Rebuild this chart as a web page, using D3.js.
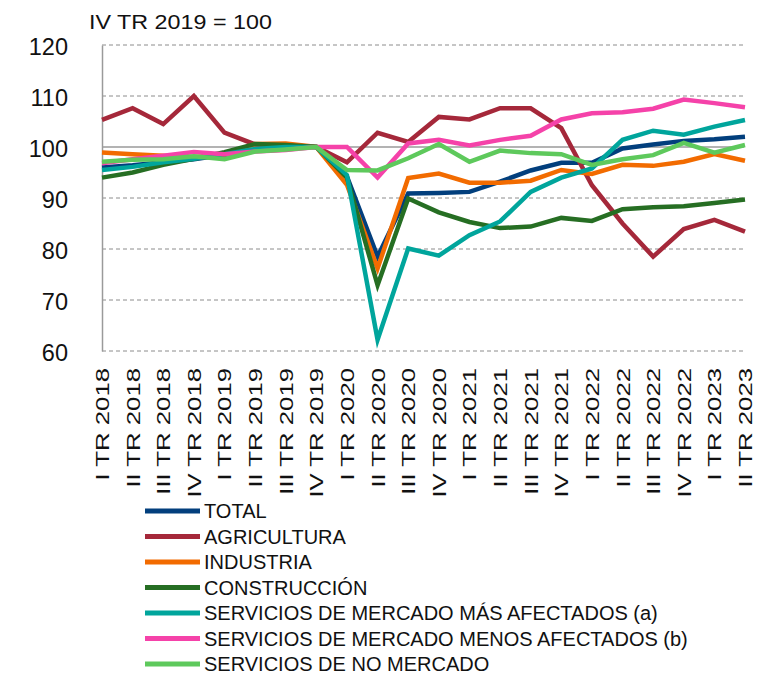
<!DOCTYPE html>
<html>
<script src="https://d3js.org/d3.v7.min.js"></script>
<style>
  body {margin:0; background:#fff;}
  text {font-family:"Liberation Sans", Arial, sans-serif; fill:#111;}
</style>
<body>
<svg width=772 height=675></svg>
<script>
    // quarters
    const quarters = ["I TR 2018","II TR 2018","III TR 2018","IV TR 2018",
        "I TR 2019","II TR 2019","III TR 2019","IV TR 2019",
        "I TR 2020","II TR 2020","III TR 2020","IV TR 2020",
        "I TR 2021","II TR 2021","III TR 2021","IV TR 2021",
        "I TR 2022","II TR 2022","III TR 2022","IV TR 2022",
        "I TR 2023","II TR 2023"];

    const yTicks = [60, 70, 80, 90, 100, 110, 120];

    const total        = [96.0, 96.4, 97.0, 97.6, 98.5, 99.4, 100.0, 100, 94.2, 78.5, 90.9, 91.0, 91.2, 93.2, 95.4, 96.9, 96.9, 99.7, 100.5, 101.2, 101.5, 102.0];
    const agricultura  = [105.3, 107.6, 104.5, 110.0, 102.8, 100.5, 100.3, 100, 97.0, 102.8, 101.0, 105.9, 105.4, 107.6, 107.6, 103.7, 92.5, 85.0, 78.5, 83.9, 85.7, 83.4];
    const industria    = [98.9, 98.6, 98.3, 98.0, 98.5, 100.6, 100.7, 100, 92.6, 76.2, 93.9, 94.8, 93.0, 93.0, 93.4, 95.5, 94.7, 96.5, 96.3, 97.1, 98.6, 97.3];
    const construccion = [94.0, 95.0, 96.5, 97.7, 99.0, 100.6, 100.4, 100, 94.0, 72.9, 89.9, 87.2, 85.3, 84.1, 84.4, 86.1, 85.5, 87.8, 88.2, 88.4, 89.0, 89.7];
    const masAfectados = [95.5, 96.1, 97.0, 97.7, 98.6, 99.6, 100.0, 100, 94.5, 62.2, 80.1, 78.7, 82.7, 85.4, 91.2, 94.0, 95.8, 101.4, 103.2, 102.4, 104.0, 105.3];
    const menosAfectados = [96.8, 97.6, 98.3, 99.0, 98.6, 99.1, 99.4, 100, 100.0, 94.0, 100.7, 101.4, 100.3, 101.4, 102.2, 105.4, 106.6, 106.8, 107.5, 109.3, 108.6, 107.8];
    const noMercado    = [97.1, 97.5, 97.6, 98.2, 97.6, 99.1, 99.5, 100, 95.5, 95.4, 97.8, 100.6, 97.1, 99.3, 98.8, 98.6, 96.5, 97.6, 98.4, 100.8, 98.9, 100.4];

    const seriesNames = ["TOTAL", "AGRICULTURA", "INDUSTRIA", "CONSTRUCCIÓN",
        "SERVICIOS DE MERCADO MÁS AFECTADOS (a)",
        "SERVICIOS DE MERCADO MENOS AFECTADOS (b)",
        "SERVICIOS DE NO MERCADO"];
    const seriesValues = [total, agricultura, industria, construccion, masAfectados, menosAfectados, noMercado];
    const colors = ["#023f7d", "#a5283a", "#f26b00", "#266e23", "#00a59c", "#f542a9", "#5ec95c"];

    const svg = d3.select("svg");

    const x = d3.scalePoint()
        .domain(quarters)
        .range([102, 745]);

    const y = d3.scaleLinear()
        .domain([60, 120])
        .range([351, 45]);

    // grid
    svg.append("g").selectAll("line")
        .data(yTicks)
        .enter().append("line")
        .attr("x1", 102).attr("x2", 744)
        .attr("y1", d => y(d)).attr("y2", d => y(d))
        .attr("stroke", d => d === 100 ? "#9a9a9a" : "#8c8c8c")
        .attr("stroke-width", d => d === 100 ? 1.5 : 1)
        .attr("stroke-dasharray", d => d === 100 ? null : "4,3");

    // y axis
    const yAxis = d3.axisLeft(y).tickValues(yTicks).tickSize(0).tickPadding(34);
    const gy = svg.append("g").attr("transform", "translate(102,0)").call(yAxis);
    gy.select(".domain").attr("stroke", "#9a9a9a").attr("stroke-width", 1.5);
    gy.selectAll("text").style("font-size", "23.5px").attr("dy", "0.42em");

    // x labels (wide glyphs, like the original rendering)
    const xAxis = d3.axisBottom(x).tickSize(0);
    const gx = svg.append("g").attr("transform", "translate(0,351)").call(xAxis);
    gx.select(".domain").remove();
    gx.selectAll("text")
        .style("font-size", "18px")
        .attr("text-anchor", "end")
        .attr("transform", "translate(0,17) rotate(-90) scale(1.43,1)")
        .attr("x", 0).attr("y", 0).attr("dy", "0.36em");

    // lines
    const line = d3.line()
        .x((d, i) => x(quarters[i]))
        .y(d => y(d));

    svg.append("g").selectAll("path")
        .data(seriesValues)
        .enter().append("path")
        .attr("d", d => line(d))
        .attr("fill", "none")
        .attr("stroke", (d, i) => colors[i])
        .attr("stroke-width", 4.5)
        .attr("stroke-linejoin", "miter");

    // title
    svg.append("text")
        .attr("transform", "translate(89,28.5) scale(1.11,1)")
        .style("font-size", "21px")
        .text("IV TR 2019 = 100");

    // legend
    const legend = svg.append("g").selectAll("g")
        .data(seriesNames)
        .enter().append("g")
        .attr("transform", (d, i) => `translate(0,${511 + i * 25.5})`);
    legend.append("line")
        .attr("x1", 145).attr("x2", 200)
        .attr("stroke", (d, i) => colors[i])
        .attr("stroke-width", 5);
    legend.append("text")
        .attr("x", 204).attr("dy", "0.36em")
        .style("font-size", "20px")
        .text(d => d);
</script>
</body>
</html>
